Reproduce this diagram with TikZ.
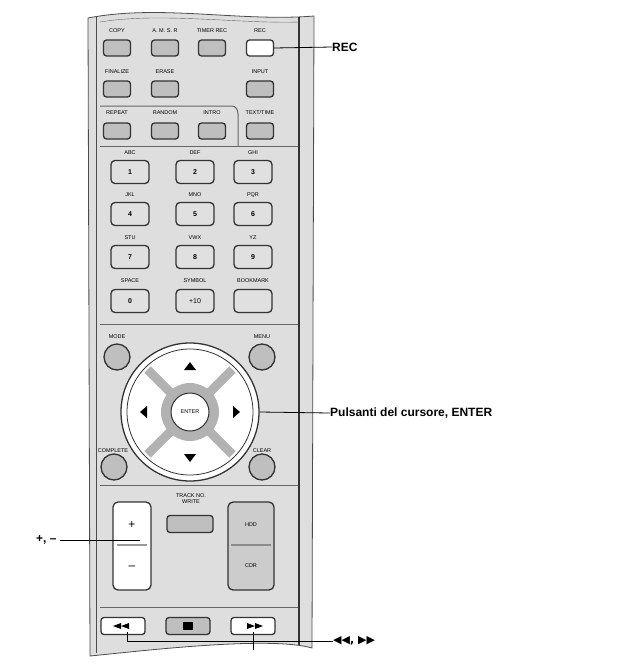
\documentclass[tikz,border=0pt]{standalone}
\usepackage{fontspec}
\setmainfont{Liberation Sans}
\newfontfamily\dv{DejaVu Sans}
\begin{document}
\begin{tikzpicture}[x=1pt,y=-1pt,
  body/.style={fill=black!13,draw=black!70,line width=0.8pt},
  btn/.style={draw=black!80,line width=1.3pt,fill=black!25,rounded corners=3pt,minimum width=27pt,minimum height=16pt,inner sep=0pt},
  nbtn/.style={draw=black!80,line width=1.3pt,fill=black!12,rounded corners=4pt,minimum width=38pt,minimum height=23pt,inner sep=0pt,font=\bfseries\fontsize{7}{8}\selectfont},
  rbtn/.style={circle,draw=black!80,line width=1.3pt,fill=black!25,minimum size=26pt,inner sep=0pt},
  lab/.style={font=\fontsize{5.5}{6}\selectfont,inner sep=0pt},
  callout/.style={font=\bfseries\fontsize{12}{14}\selectfont,anchor=west,inner sep=0pt},
  lead/.style={line width=0.8pt}]
\useasboundingbox (0,0) rectangle (620,667);
% body
\path[body] (88,18) .. controls (160,4) and (240,22) .. (314,16) -- (312,648) .. controls (270,636) and (150,650) .. (90,656) -- cycle;
\draw[black!70] (96,17) -- (96,653);
\draw[black!80,line width=1.2pt] (299,17) -- (299,645);
\draw[black!60] (100,22) .. controls (160,12) and (240,24) .. (300,22);
% top rows
\foreach \x/\t in {117/COPY,165/A. M. S. R,212/TIMER REC,260/REC}{\node[lab] at (\x,31) {\t};}
\foreach \x/\n in {117/copy,165/amsr,212/timer}{\node[btn] (\n) at (\x,48) {};}
\node[btn,fill=white] (rec) at (260,48) {};
\foreach \x/\t in {117/FINALIZE,165/ERASE,260/INPUT}{\node[lab] at (\x,72) {\t};}
\foreach \x/\n in {117/fin,165/erase,260/input}{\node[btn] (\n) at (\x,89) {};}
\draw[black!60,line width=1pt] (100,106) -- (232,106) to[out=0,in=90] (238,114) -- (238,146);
\foreach \x/\t in {117/REPEAT,165/RANDOM,212/INTRO}{\node[lab] at (\x,113) {\t};}
\node[lab] at (260,113) {TEXT/TIME};
\foreach \x/\n in {117/rep,165/rand,212/intro,260/text}{\node[btn] (\n) at (\x,131) {};}
\draw[black!60,line width=1pt] (100,146) -- (298,146);
% numeric
\foreach \r/\y/\a/\b/\c/\na/\nb/\nc in {1/172/ABC/DEF/GHI/1/2/3,2/214/JKL/MNO/PQR/4/5/6,3/257/STU/VWX/YZ/7/8/9}{
  \node[lab] at (130,\y-19) {\a};\node[lab] at (195,\y-19) {\b};\node[lab] at (253,\y-19) {\c};
  \node[nbtn] (n\na) at (130,\y) {\na};\node[nbtn] (n\nb) at (195,\y) {\nb};\node[nbtn] (n\nc) at (253,\y) {\nc};}
\node[lab] at (130,281) {SPACE};\node[lab] at (195,281) {SYMBOL};\node[lab] at (253,281) {BOOKMARK};
\node[nbtn] (n0) at (130,301) {0};\node[nbtn,font=\fontsize{7}{8}\selectfont] (n10) at (195,301) {+10};\node[nbtn] (bm) at (253,301) {};
\draw[black!60,line width=1pt] (100,324) -- (298,324);
% round buttons
\node[lab] at (117,337) {MODE};\node[rbtn] (mode) at (117,357) {};
\node[lab] at (262,337) {MENU};\node[rbtn] (menu) at (262,357) {};
\node[lab] at (113,451) {COMPLETE};\node[rbtn] (compl) at (114,467) {};
\node[lab] at (262,451) {CLEAR};\node[rbtn] (clear) at (262,467) {};
% dpad
\node[circle,draw=black!80,line width=1.3pt,fill=white,minimum size=138pt,inner sep=0pt] (pad) at (190,412) {};
\foreach \a in {45,135,225,315}{\draw[black!30,line width=9pt] (190,412) ++(\a:28) -- ++(\a:32);}
\draw[black!80,line width=0.8pt] (190,412) circle (63);
\fill[black!30] (190,412) circle (29);
\node[circle,draw=black!80,line width=1pt,fill=white,minimum size=38pt,inner sep=0pt,font=\fontsize{5.5}{6}\selectfont] (enter) at (190,412) {ENTER};
\fill (190,362) -- (184,370) -- (196,370) -- cycle;
\fill (190,462) -- (184,454) -- (196,454) -- cycle;
\fill (140,412) -- (147,406) -- (147,418) -- cycle;
\fill (240,412) -- (233,406) -- (233,418) -- cycle;
\draw[black!60,line width=1pt] (100,485) -- (298,485);
% rockers
\draw[black!80,line width=1.3pt,fill=white,rounded corners=5pt] (113,502) rectangle (151,590);
\draw[black!40,line width=2pt] (117,545) -- (147,545);
\node[font=\fontsize{12}{12}\selectfont] (plus) at (132,525) {+};
\node[font=\fontsize{12}{12}\selectfont] (minus) at (132,568) {\textendash};
\node[lab,align=center] at (191,499) {TRACK NO.\\WRITE};
\node[btn,minimum width=46pt,minimum height=17pt] (track) at (190,524) {};
\draw[black!80,line width=1.3pt,fill=black!20,rounded corners=5pt] (228,502) rectangle (274,590);
\draw[black!45,line width=2pt] (231,545) -- (271,545);
\node[lab] (hdd) at (251,525) {HDD};
\node[lab] (cdr) at (251,566) {CDR};
\draw[black!60,line width=1pt] (100,607) -- (298,607);
% transport
\node[btn,fill=white,minimum width=44pt,minimum height=17pt] (rew) at (123,626) {};
\node[btn,minimum width=44pt,minimum height=17pt] (stop) at (188,626) {};
\node[btn,fill=white,minimum width=44pt,minimum height=17pt] (ff) at (253,626) {};
\fill (rew.center) ++(-10,0) -- ++(8,-3) -- ++(0,6) -- cycle;
\fill (rew.center) ++(-2,0) -- ++(8,-3) -- ++(0,6) -- cycle;
\fill (stop.center) ++(-5,-4) rectangle ++(10,8);
\fill (ff.center) ++(10,0) -- ++(-8,-3) -- ++(0,6) -- cycle;
\fill (ff.center) ++(2,0) -- ++(-8,-3) -- ++(0,6) -- cycle;
% callouts
\node[callout] (lrec) at (332,47) {REC};
\draw[lead] (rec.east) -- (lrec.west);
\node[callout] (lpad) at (330,413) {Pulsanti del cursore, ENTER};
\draw[lead] (pad.east) -- (lpad.west);
\node[callout] (lpm) at (36,540) {+, \textendash};
\draw[lead] (lpm.east) ++(3,0) coordinate (pm1) -- (140,540);
\node[callout,font=\dv\bfseries\fontsize{11}{12}\selectfont] (lff) at (333,641) {◀◀, ▶▶};
\coordinate (rewb) at (127,641);
\draw[lead] (rew.south) ++(4,-3) -- (rewb) -- (lff.west);
\draw[lead] (ff.south) ++(0,-3) -- ++(0,18);
\end{tikzpicture}
\end{document}
